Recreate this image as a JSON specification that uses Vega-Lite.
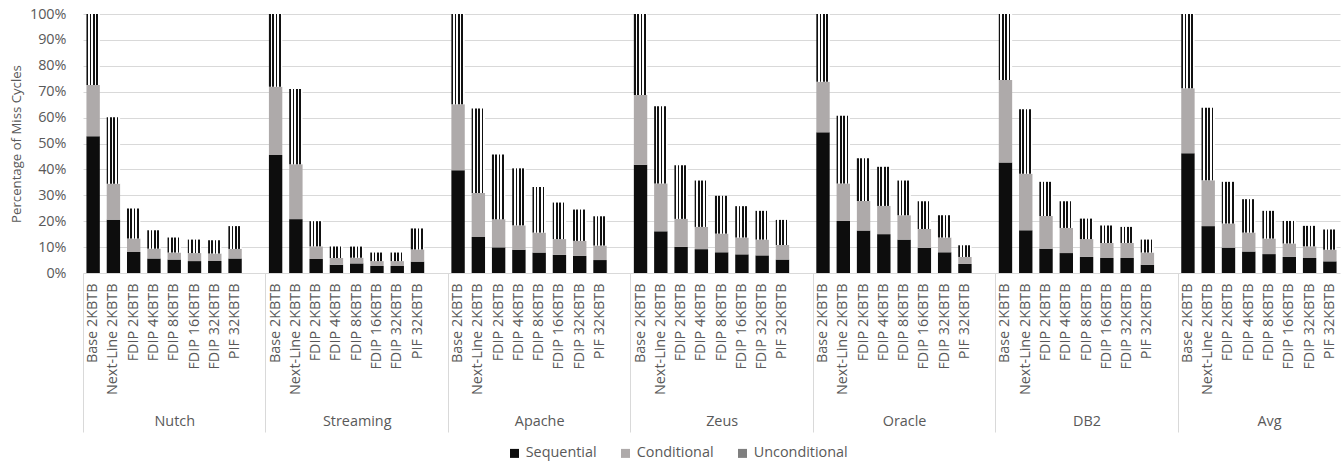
{
  "$schema": "https://vega.github.io/schema/vega-lite/v6.json",
  "width": 1257,
  "height": 259,
  "autosize": "none",
  "padding": {"left": 83, "top": 14, "right": 3, "bottom": 191},
  "background": "white",
  "data": {"values": [
    {"bar": "Nutch|Base 2KBTB", "seq": 52.8, "cond": 72.6, "total": 100},
    {"bar": "Nutch|Next-Line 2KBTB", "seq": 20.6, "cond": 34.5, "total": 60.1},
    {"bar": "Nutch|FDIP 2KBTB", "seq": 8.1, "cond": 13.3, "total": 24.9},
    {"bar": "Nutch|FDIP 4KBTB", "seq": 5.6, "cond": 9.4, "total": 16.5},
    {"bar": "Nutch|FDIP 8KBTB", "seq": 5.2, "cond": 7.9, "total": 13.7},
    {"bar": "Nutch|FDIP 16KBTB", "seq": 4.6, "cond": 7.7, "total": 12.9},
    {"bar": "Nutch|FDIP 32KBTB", "seq": 4.6, "cond": 7.5, "total": 12.6},
    {"bar": "Nutch|PIF 32KBTB", "seq": 5.6, "cond": 9.3, "total": 18.1},
    {"bar": "Streaming|Base 2KBTB", "seq": 45.6, "cond": 71.9, "total": 100},
    {"bar": "Streaming|Next-Line 2KBTB", "seq": 20.8, "cond": 42.0, "total": 71.0},
    {"bar": "Streaming|FDIP 2KBTB", "seq": 5.4, "cond": 10.3, "total": 20.0},
    {"bar": "Streaming|FDIP 4KBTB", "seq": 3.2, "cond": 5.8, "total": 10.2},
    {"bar": "Streaming|FDIP 8KBTB", "seq": 3.7, "cond": 5.9, "total": 10.2},
    {"bar": "Streaming|FDIP 16KBTB", "seq": 2.7, "cond": 4.6, "total": 7.9},
    {"bar": "Streaming|FDIP 32KBTB", "seq": 2.7, "cond": 4.6, "total": 7.9},
    {"bar": "Streaming|PIF 32KBTB", "seq": 4.4, "cond": 9.1, "total": 17.2},
    {"bar": "Apache|Base 2KBTB", "seq": 39.7, "cond": 65.2, "total": 100},
    {"bar": "Apache|Next-Line 2KBTB", "seq": 13.9, "cond": 30.9, "total": 63.5},
    {"bar": "Apache|FDIP 2KBTB", "seq": 9.9, "cond": 20.8, "total": 45.8},
    {"bar": "Apache|FDIP 4KBTB", "seq": 9.0, "cond": 18.4, "total": 40.4},
    {"bar": "Apache|FDIP 8KBTB", "seq": 7.9, "cond": 15.6, "total": 33.2},
    {"bar": "Apache|FDIP 16KBTB", "seq": 7.0, "cond": 13.1, "total": 27.2},
    {"bar": "Apache|FDIP 32KBTB", "seq": 6.6, "cond": 12.4, "total": 24.5},
    {"bar": "Apache|PIF 32KBTB", "seq": 5.0, "cond": 10.6, "total": 21.9},
    {"bar": "Zeus|Base 2KBTB", "seq": 41.8, "cond": 68.7, "total": 100},
    {"bar": "Zeus|Next-Line 2KBTB", "seq": 16.1, "cond": 34.6, "total": 64.4},
    {"bar": "Zeus|FDIP 2KBTB", "seq": 10.1, "cond": 20.9, "total": 41.6},
    {"bar": "Zeus|FDIP 4KBTB", "seq": 9.2, "cond": 17.8, "total": 35.7},
    {"bar": "Zeus|FDIP 8KBTB", "seq": 8.0, "cond": 15.2, "total": 29.8},
    {"bar": "Zeus|FDIP 16KBTB", "seq": 7.2, "cond": 13.7, "total": 25.8},
    {"bar": "Zeus|FDIP 32KBTB", "seq": 6.8, "cond": 12.9, "total": 24.0},
    {"bar": "Zeus|PIF 32KBTB", "seq": 5.2, "cond": 10.8, "total": 20.5},
    {"bar": "Oracle|Base 2KBTB", "seq": 54.3, "cond": 73.8, "total": 100},
    {"bar": "Oracle|Next-Line 2KBTB", "seq": 20.1, "cond": 34.6, "total": 60.7},
    {"bar": "Oracle|FDIP 2KBTB", "seq": 16.4, "cond": 27.8, "total": 44.3},
    {"bar": "Oracle|FDIP 4KBTB", "seq": 15.0, "cond": 25.9, "total": 41.0},
    {"bar": "Oracle|FDIP 8KBTB", "seq": 12.9, "cond": 22.3, "total": 35.7},
    {"bar": "Oracle|FDIP 16KBTB", "seq": 9.7, "cond": 17.0, "total": 27.7},
    {"bar": "Oracle|FDIP 32KBTB", "seq": 8.0, "cond": 13.7, "total": 22.3},
    {"bar": "Oracle|PIF 32KBTB", "seq": 3.5, "cond": 6.2, "total": 10.7},
    {"bar": "DB2|Base 2KBTB", "seq": 42.7, "cond": 74.5, "total": 100},
    {"bar": "DB2|Next-Line 2KBTB", "seq": 16.5, "cond": 38.3, "total": 63.2},
    {"bar": "DB2|FDIP 2KBTB", "seq": 9.4, "cond": 22.0, "total": 35.2},
    {"bar": "DB2|FDIP 4KBTB", "seq": 7.7, "cond": 17.4, "total": 27.7},
    {"bar": "DB2|FDIP 8KBTB", "seq": 6.2, "cond": 13.1, "total": 21.0},
    {"bar": "DB2|FDIP 16KBTB", "seq": 5.8, "cond": 11.6, "total": 18.3},
    {"bar": "DB2|FDIP 32KBTB", "seq": 5.8, "cond": 11.6, "total": 17.8},
    {"bar": "DB2|PIF 32KBTB", "seq": 3.2, "cond": 7.9, "total": 12.9},
    {"bar": "Avg|Base 2KBTB", "seq": 46.2, "cond": 71.3, "total": 100},
    {"bar": "Avg|Next-Line 2KBTB", "seq": 18.1, "cond": 35.8, "total": 63.8},
    {"bar": "Avg|FDIP 2KBTB", "seq": 9.8, "cond": 19.1, "total": 35.2},
    {"bar": "Avg|FDIP 4KBTB", "seq": 8.3, "cond": 15.6, "total": 28.5},
    {"bar": "Avg|FDIP 8KBTB", "seq": 7.3, "cond": 13.3, "total": 24.0},
    {"bar": "Avg|FDIP 16KBTB", "seq": 6.2, "cond": 11.4, "total": 20.1},
    {"bar": "Avg|FDIP 32KBTB", "seq": 5.8, "cond": 10.3, "total": 18.2},
    {"bar": "Avg|PIF 32KBTB", "seq": 4.5, "cond": 9.0, "total": 16.8}
  ]},
  "layer": [
    {
      "mark": {"type": "bar"},
      "encoding": {
        "x": {
          "field": "bar", "type": "nominal",
          "scale": {
            "domain": ["Nutch|Base 2KBTB","Nutch|Next-Line 2KBTB","Nutch|FDIP 2KBTB","Nutch|FDIP 4KBTB","Nutch|FDIP 8KBTB","Nutch|FDIP 16KBTB","Nutch|FDIP 32KBTB","Nutch|PIF 32KBTB","Nutch|",
              "Streaming|Base 2KBTB","Streaming|Next-Line 2KBTB","Streaming|FDIP 2KBTB","Streaming|FDIP 4KBTB","Streaming|FDIP 8KBTB","Streaming|FDIP 16KBTB","Streaming|FDIP 32KBTB","Streaming|PIF 32KBTB","Streaming|",
              "Apache|Base 2KBTB","Apache|Next-Line 2KBTB","Apache|FDIP 2KBTB","Apache|FDIP 4KBTB","Apache|FDIP 8KBTB","Apache|FDIP 16KBTB","Apache|FDIP 32KBTB","Apache|PIF 32KBTB","Apache|",
              "Zeus|Base 2KBTB","Zeus|Next-Line 2KBTB","Zeus|FDIP 2KBTB","Zeus|FDIP 4KBTB","Zeus|FDIP 8KBTB","Zeus|FDIP 16KBTB","Zeus|FDIP 32KBTB","Zeus|PIF 32KBTB","Zeus|",
              "Oracle|Base 2KBTB","Oracle|Next-Line 2KBTB","Oracle|FDIP 2KBTB","Oracle|FDIP 4KBTB","Oracle|FDIP 8KBTB","Oracle|FDIP 16KBTB","Oracle|FDIP 32KBTB","Oracle|PIF 32KBTB","Oracle|",
              "DB2|Base 2KBTB","DB2|Next-Line 2KBTB","DB2|FDIP 2KBTB","DB2|FDIP 4KBTB","DB2|FDIP 8KBTB","DB2|FDIP 16KBTB","DB2|FDIP 32KBTB","DB2|PIF 32KBTB","DB2|",
              "Avg|Base 2KBTB","Avg|Next-Line 2KBTB","Avg|FDIP 2KBTB","Avg|FDIP 4KBTB","Avg|FDIP 8KBTB","Avg|FDIP 16KBTB","Avg|FDIP 32KBTB","Avg|PIF 32KBTB"],
            "paddingInner": 0.34, "paddingOuter": 0.17
          },
          "axis": {
            "orient": "bottom",
            "title": null,
            "labelExpr": "split(datum.value, '|')[1]",
            "labelAngle": -90, "labelAlign": "right", "labelBaseline": "middle",
            "labelPadding": 10, "ticks": false, "domain": false, "grid": false,
            "labelFontSize": 14.4, "labelColor": "#595959",
            "labelOverlap": false, "labelBound": false
          }
        },
        "y": {
          "field": "seq", "type": "quantitative", "title": "Percentage of Miss Cycles",
          "scale": {"domain": [0, 100], "nice": false},
          "axis": {
            "values": [0,10,20,30,40,50,60,70,80,90,100],
            "labelExpr": "datum.value + '%'",
            "grid": true, "gridColor": "#d9d9d9", "gridWidth": 1,
            "domain": false, "ticks": false, "labelPadding": 17, "labelOverlap": false,
            "labelFontSize": 14.4, "labelColor": "#595959",
            "titleFontSize": 13.2, "titleFontWeight": "normal", "titleColor": "#595959", "titlePadding": 6
          }
        },
        "color": {
          "datum": "Sequential", "type": "nominal",
          "scale": {"domain": ["Sequential", "Conditional", "Unconditional"], "range": ["#0d0d0d", "#aeaaaa", "#7f7f7f"]},
          "legend": {
            "title": null, "orient": "none", "legendX": 424.3, "legendY": 432,
            "direction": "horizontal", "symbolType": "square", "symbolSize": 81, "symbolStrokeWidth": 0,
            "labelFontSize": 14.4, "labelColor": "#595959", "labelOffset": 4, "columnPadding": 21, "padding": 0
          }
        }
      }
    },
    {
      "mark": {"type": "bar"},
      "encoding": {
        "x": {
          "field": "bar", "type": "nominal",
          "axis": {
            "orient": "bottom",
            "title": null,
            "values": ["Nutch|Base 2KBTB","Streaming|Base 2KBTB","Apache|Base 2KBTB","Zeus|Base 2KBTB","Oracle|Base 2KBTB","DB2|Base 2KBTB","Avg|Base 2KBTB"],
            "labelExpr": "split(datum.value, '|')[0]",
            "bandPosition": 0, "tickOffset": -3.447,
            "ticks": true, "tickSize": 159, "tickColor": "#d9d9d9", "tickWidth": 1,
            "domain": false, "grid": false,
            "labelAngle": 0, "labelAlign": "center", "labelBaseline": "middle",
            "labelPadding": -10.3, "labelOffset": 84.54,
            "labelFontSize": 14.4, "labelColor": "#595959", "labelBound": false, "labelOverlap": false,
            "encode": {"labels": {"dx": {"value": {"expr": "datum.value === 'Avg|Base 2KBTB' ? -10.14 : 0"}}}}
          }
        },
        "y": {
          "field": "seq", "type": "quantitative", "title": "Percentage of Miss Cycles",
          "scale": {"domain": [0, 100], "nice": false},
          "axis": {
            "values": [0,10,20,30,40,50,60,70,80,90,100],
            "labelExpr": "datum.value + '%'",
            "grid": true, "gridColor": "#d9d9d9", "gridWidth": 1,
            "domain": false, "ticks": false, "labelPadding": 17, "labelOverlap": false,
            "labelFontSize": 14.4, "labelColor": "#595959",
            "titleFontSize": 13.2, "titleFontWeight": "normal", "titleColor": "#595959", "titlePadding": 6
          }
        },
        "y2": {"field": "cond"},
        "color": {"datum": "Conditional", "type": "nominal"}
      }
    },
    {
      "mark": {"type": "bar", "fill": {"gradient": "linear", "x1": 0, "y1": 0, "x2": 1, "y2": 0, "stops": [
        {"offset": 0, "color": "#111111"}, {"offset": 0.125, "color": "#111111"}, {"offset": 0.125, "color": "#ffffff"}, {"offset": 0.25, "color": "#ffffff"},
        {"offset": 0.25, "color": "#111111"}, {"offset": 0.375, "color": "#111111"}, {"offset": 0.375, "color": "#ffffff"}, {"offset": 0.5, "color": "#ffffff"},
        {"offset": 0.5, "color": "#111111"}, {"offset": 0.625, "color": "#111111"}, {"offset": 0.625, "color": "#ffffff"}, {"offset": 0.75, "color": "#ffffff"},
        {"offset": 0.75, "color": "#111111"}, {"offset": 0.875, "color": "#111111"}, {"offset": 0.875, "color": "#ffffff"}, {"offset": 1, "color": "#ffffff"}]}},
      "encoding": {
        "x": {"field": "bar", "type": "nominal", "axis": null},
        "y": {
          "field": "cond", "type": "quantitative", "title": "Percentage of Miss Cycles",
          "scale": {"domain": [0, 100], "nice": false},
          "axis": {
            "values": [0,10,20,30,40,50,60,70,80,90,100],
            "labelExpr": "datum.value + '%'",
            "grid": true, "gridColor": "#d9d9d9", "gridWidth": 1,
            "domain": false, "ticks": false, "labelPadding": 17, "labelOverlap": false,
            "labelFontSize": 14.4, "labelColor": "#595959",
            "titleFontSize": 13.2, "titleFontWeight": "normal", "titleColor": "#595959", "titlePadding": 6
          }
        },
        "y2": {"field": "total"}
      }
    }
  ],
  "resolve": {"axis": {"x": "independent"}},
  "config": {
    "font": "Open Sans",
    "view": {"stroke": null}
  }
}
